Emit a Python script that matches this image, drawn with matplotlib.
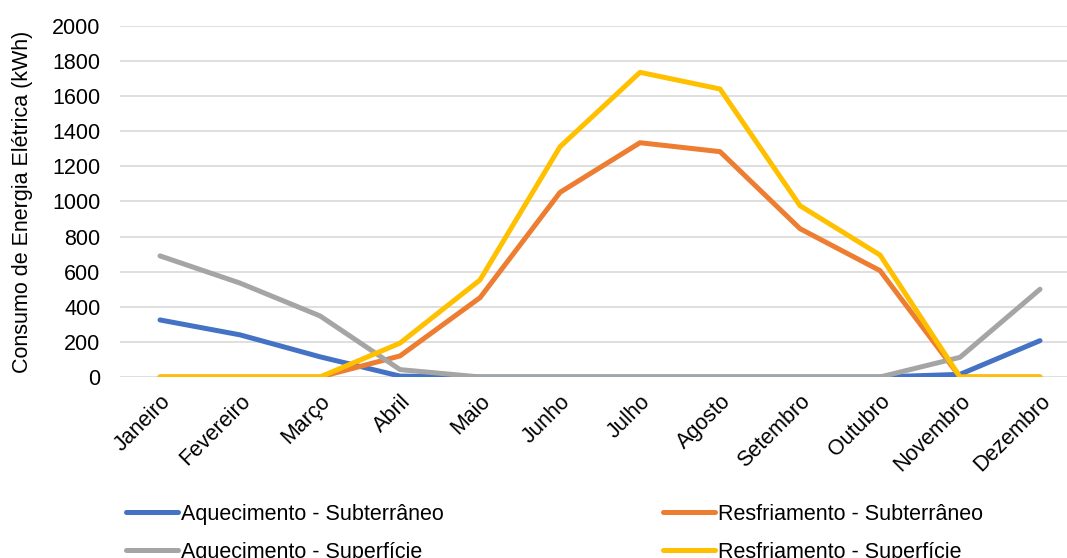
import numpy as np
import matplotlib as mpl
mpl.use('Agg')
import matplotlib.pyplot as plt

mpl.rc('font', family=['Liberation Sans', 'DejaVu Sans'], size=15)

meses = ['Janeiro', 'Fevereiro', 'Março', 'Abril', 'Maio', 'Junho', 'Julho',
         'Agosto', 'Setembro', 'Outubro', 'Novembro', 'Dezembro']
aquec_sub = [325, 240, 115, 5, 0, 0, 0, 0, 0, 0, 15, 207]
resf_sub = [0, 0, 0, 120, 452, 1052, 1335, 1284, 845, 606, 0, 0]
aquec_sup = [690, 535, 348, 42, 0, 0, 0, 0, 0, 0, 112, 500]
resf_sup = [0, 0, 0, 193, 553, 1312, 1736, 1641, 976, 695, 0, 0]

fig = plt.figure(figsize=(10.67, 5.58), dpi=100)
ax = fig.add_axes([0.1125, 0.3244, 0.8997, 0.629])

x = np.arange(len(meses))
lw = 3.6
l1, = ax.plot(x, aquec_sub, color='#4472C4', lw=lw, solid_capstyle='round', label='Aquecimento - Subterrâneo')
l2, = ax.plot(x, resf_sub, color='#ED7D31', lw=lw, solid_capstyle='round', label='Resfriamento - Subterrâneo')
l3, = ax.plot(x, aquec_sup, color='#A5A5A5', lw=lw, solid_capstyle='round', label='Aquecimento - Superfície')
l4, = ax.plot(x, resf_sup, color='#FFC000', lw=lw, solid_capstyle='round', label='Resfriamento - Superfície')

ax.set_xlim(-0.5, 11.5)
ax.set_ylim(0, 2000)
ax.set_yticks(range(0, 2001, 200))
ax.set_xticks(x)
ax.set_xticklabels(meses, rotation=45, ha='right', rotation_mode='anchor')
ax.tick_params(length=0, labelsize=15.5, colors='#000000')
ax.tick_params(axis='x', pad=10)
ax.tick_params(axis='y', pad=14)
ax.grid(axis='y', color='#D9D9D9', lw=1.2)
ax.set_axisbelow(True)
for s in ax.spines.values():
    s.set_visible(False)
ax.set_ylabel('Consumo de Energia Elétrica (kWh)', fontsize=15.5, labelpad=14)

fig.legend(handles=[l1, l3, l2, l4], ncol=2, loc='upper left',
           bbox_to_anchor=(0.118, 0.097), frameon=False, fontsize=15.5,
           handlelength=2.4, handletextpad=0.15, columnspacing=10.2,
           labelspacing=0.78, borderaxespad=0, borderpad=0)

plt.savefig('out.png', dpi=100)
